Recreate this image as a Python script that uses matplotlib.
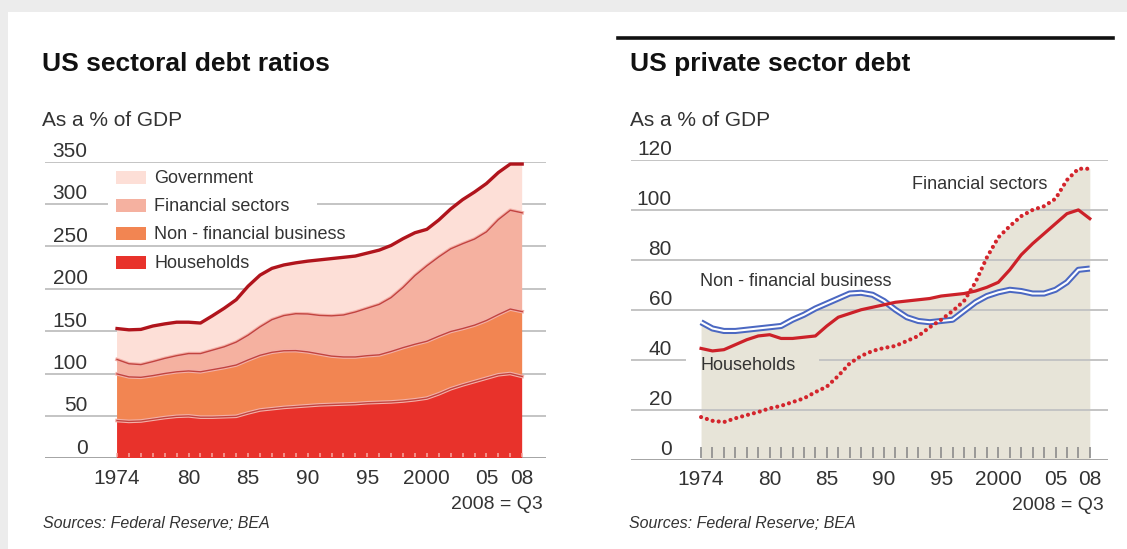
import matplotlib.pyplot as plt
import numpy as np
from matplotlib.patches import Rectangle
from matplotlib.lines import Line2D

plt.rcParams['font.family'] = ['Liberation Sans', 'DejaVu Sans']

W, H = 1127, 549

years = list(range(1974, 2009))
households = [44.5, 43.5, 44.0, 46.0, 48.0, 49.5, 50.0, 48.5, 48.5, 49.0,
              49.5, 53.5, 57.0, 58.5, 60.0, 61.0, 62.0, 63.0, 63.5, 64.0,
              64.5, 65.5, 66.0, 66.5, 67.5, 69.0, 71.0, 76.0, 82.0, 86.5,
              90.5, 94.5, 98.5, 100.0, 96.5]
nonfin = [55.0, 52.5, 51.5, 51.5, 52.0, 52.5, 53.0, 53.5, 56.0, 58.0,
          60.5, 62.5, 64.5, 66.5, 66.8, 66.0, 63.5, 60.0, 57.0, 55.5,
          55.0, 55.5, 56.0, 59.5, 63.0, 65.5, 67.0, 68.0, 67.5, 66.5,
          66.5, 68.0, 71.0, 76.0, 76.5]
financial = [17.0, 15.5, 15.0, 16.5, 17.8, 19.0, 20.5, 21.5, 23.0, 24.5,
             27.0, 29.2, 33.5, 38.5, 41.5, 43.5, 44.7, 45.5, 47.5, 49.5,
             53.0, 56.0, 59.5, 63.5, 71.0, 81.0, 89.0, 93.5, 97.5, 100.0,
             101.5, 104.5, 112.0, 116.5, 116.5]
government = [36.5, 40.0, 41.5, 42.0, 40.7, 39.5, 37.0, 36.0, 40.5, 45.5,
              50.0, 57.8, 61.0, 60.5, 59.7, 60.0, 62.3, 65.5, 67.5, 68.0,
              66.0, 65.0, 64.0, 61.5, 57.5, 50.5, 43.0, 43.5, 47.0, 52.0,
              55.5, 57.0, 55.5, 54.5, 57.5]

xtick_years = [1974, 1980, 1985, 1990, 1995, 2000, 2005, 2008]
xtick_labels = ['1974', '80', '85', '90', '95', '2000', '05', '08']
left_yticks = [0, 50, 100, 150, 200, 250, 300, 350]
right_yticks = [0, 20, 40, 60, 80, 100, 120]

stack_names = ['Households', 'Non - financial business', 'Financial sectors', 'Government']
stack_colors = ['#e8322b', '#f28552', '#f5b1a0', '#fddfd7']

grid_c = '#c4c4c4'
zero_c = '#9c9c9c'
text_c = '#333333'


def fpos(x, y):
    return x / W, 1 - y / H


def axes_rect(x0, y0, x1, y1):
    return [x0 / W, 1 - y1 / H, (x1 - x0) / W, (y1 - y0) / H]


fig = plt.figure(figsize=(W / 100, H / 100), dpi=100, facecolor='#ececec')
fig.patches.append(Rectangle(fpos(7.5, H), 1, 1 - 12 / H, transform=fig.transFigure,
                             facecolor='white', edgecolor='none', zorder=-1))


def setup(ax, yticks, lab_x, breaks=None):
    ax.set_facecolor('none')
    for s in ax.spines.values():
        s.set_visible(False)
    ax.set_xticks([])
    ax.set_yticks([])
    breaks = breaks or {}
    for v in yticks:
        if v == 0:
            ax.axhline(v, color=zero_c, lw=2.0, zorder=1.5)
        elif v in breaks:
            a, b = breaks[v]
            ax.axhline(v, xmin=0, xmax=a, color=grid_c, lw=1.4, zorder=1.5)
            ax.axhline(v, xmin=b, xmax=1, color=grid_c, lw=1.4, zorder=1.5)
        else:
            ax.axhline(v, color=grid_c, lw=1.4, zorder=1.5)
        ax.annotate(str(v), xy=(lab_x, v), xycoords=ax.get_yaxis_transform(),
                    xytext=(0, 3.3), textcoords='offset points',
                    ha='right', va='baseline', fontsize=15, color=text_c)
    for yr, lab in zip(xtick_years, xtick_labels):
        ax.annotate(lab, xy=(yr, 0), xycoords=ax.get_xaxis_transform(),
                    xytext=(0, -18.6), textcoords='offset points',
                    ha='center', va='baseline', fontsize=15, color=text_c)


# left panel: stacked debt ratios
ax1 = fig.add_axes(axes_rect(44.6, 161.5, 546, 458.3))
ax1.set_xlim(1967.92, 2010.0)
ax1.set_ylim(0, 350)
setup(ax1, left_yticks, 0.0856, breaks={300: (0.1245, 0.5453)})

ax1.stackplot(years, households, nonfin, financial, government,
              colors=stack_colors, linewidth=0, zorder=2)
tops = np.cumsum([households, nonfin, financial, government], axis=0)
for t in tops[:3]:
    ax1.plot(years, t, color='#f3b0a8', lw=2.6, zorder=3)
    ax1.plot(years, t, color='#c2443f', lw=1.0, zorder=3.1)
ax1.plot(years, tops[3], color='#b0141c', lw=2.4, zorder=3.2)
ax1.vlines(years, 1, 6, color='#f6a9a2', lw=1.1, zorder=3)

# legend, drawn top to bottom
leg_rows = [177, 205, 233, 262]
for i, y in enumerate(leg_rows):
    k = 3 - i
    fig.patches.append(Rectangle(fpos(116, y + 6.5), 30 / W, 13 / H,
                                 transform=fig.transFigure, facecolor=stack_colors[k],
                                 edgecolor='none', zorder=2))
    fig.text(*fpos(154, y + 6), stack_names[k], fontsize=13, color=text_c,
             ha='left', va='baseline', zorder=3)

# right panel: private sector debt lines
ax2 = fig.add_axes(axes_rect(630.5, 160, 1108, 459.5))
ax2.set_xlim(1967.83, 2009.59)
ax2.set_ylim(0, 120)
setup(ax2, right_yticks, 0.0869, breaks={40: (0.114, 0.397)})

envelope = np.maximum.reduce([np.array(households), np.array(nonfin), np.array(financial)])
ax2.fill_between(years, 0, envelope, color='#e7e4d8', lw=0, zorder=1)
ax2.vlines(years, 0.6, 5.0, color='#8c8c8c', lw=1.2, zorder=2)

ax2.plot(years, nonfin, color='#4b68c2', lw=4.4, zorder=3, solid_capstyle='butt')
ax2.plot(years, nonfin, color='white', lw=1.5, zorder=3.1)
ax2.plot(years, households, color='#cc2129', lw=2.3, zorder=3.2)
ax2.plot(years, financial, color='#d3252c', lw=3.0, linestyle=(0, (0.01, 1.45)),
         dash_capstyle='round', zorder=3.3)

fig.text(*fpos(912, 189), 'Financial sectors', fontsize=13, color=text_c, va='baseline')
fig.text(*fpos(700, 286), 'Non - financial business', fontsize=13, color=text_c, va='baseline')
fig.text(*fpos(700, 369.5), 'Households', fontsize=13, color=text_c, va='baseline')

# titles and notes
fig.add_artist(Line2D([618 / W, 1113 / W], [1 - 38 / H, 1 - 38 / H],
                      color='#111111', lw=2.6, transform=fig.transFigure))
fig.text(*fpos(42, 70.7), 'US sectoral debt ratios', fontsize=19,
         fontweight='bold', color='#111111', va='baseline')
fig.text(*fpos(630.5, 70.7), 'US private sector debt', fontsize=19,
         fontweight='bold', color='#111111', va='baseline')
fig.text(*fpos(42, 126.5), 'As a % of GDP', fontsize=15, color=text_c, va='baseline')
fig.text(*fpos(630.5, 125.5), 'As a % of GDP', fontsize=15, color=text_c, va='baseline')
fig.text(*fpos(543, 509), '2008 = Q3', fontsize=14, color=text_c, ha='right', va='baseline')
fig.text(*fpos(1104, 510), '2008 = Q3', fontsize=14, color=text_c, ha='right', va='baseline')
fig.text(*fpos(43, 528.5), 'Sources: Federal Reserve; BEA', fontsize=11.5,
         style='italic', color=text_c, va='baseline')
fig.text(*fpos(629, 528.5), 'Sources: Federal Reserve; BEA', fontsize=11.5,
         style='italic', color=text_c, va='baseline')

fig.savefig('out.png', dpi=100, facecolor=fig.get_facecolor())
